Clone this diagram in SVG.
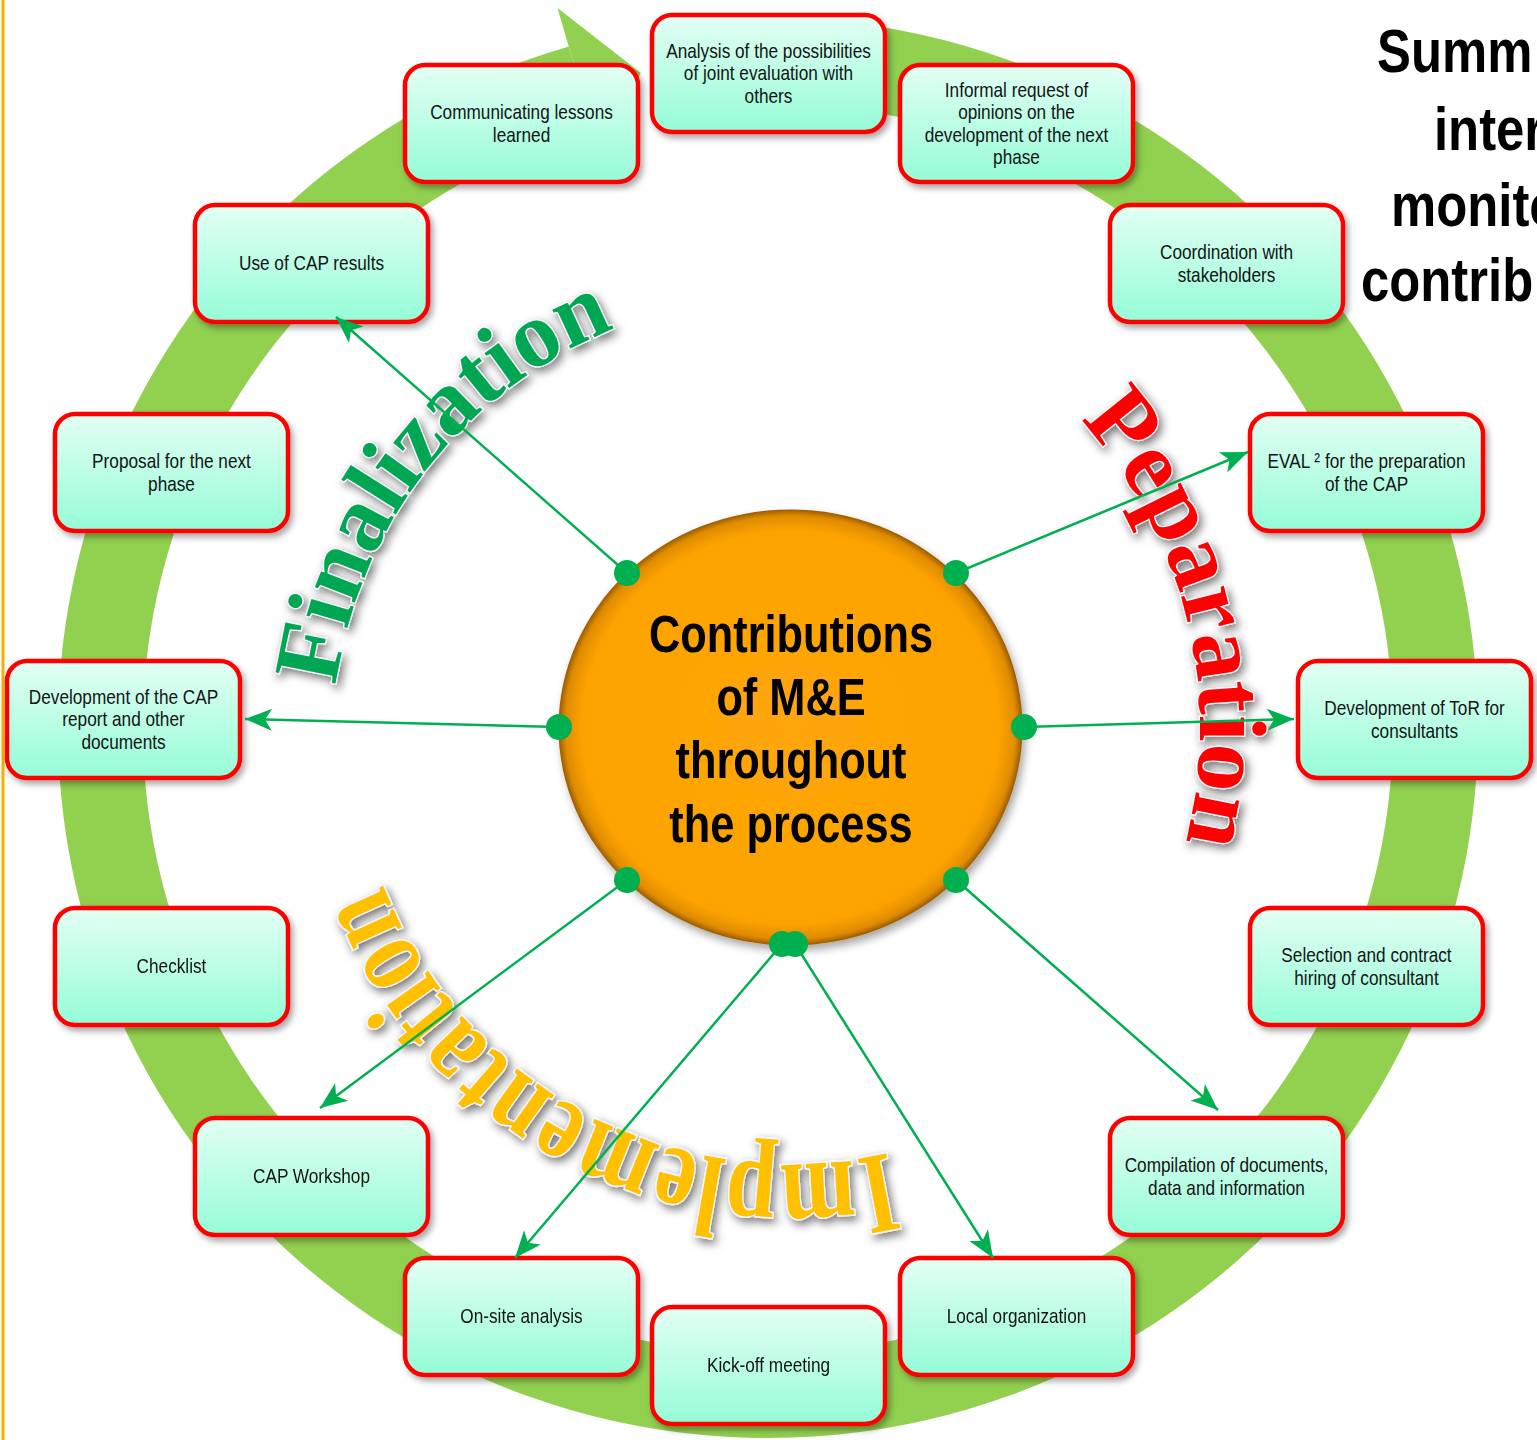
<svg xmlns="http://www.w3.org/2000/svg" width="1537" height="1440" viewBox="0 0 1537 1440">
<defs>
<style>
.box{fill:url(#boxg);stroke:#ff0000;stroke-width:4.5;filter:url(#bsh)}
.bt{font-family:"Liberation Sans",Arial,sans-serif;font-size:21px;fill:#141414;text-anchor:middle}
.ct{font-family:"Liberation Sans",Arial,sans-serif;font-size:51px;font-weight:bold;fill:#000;text-anchor:middle}
.tt{font-family:"Liberation Sans",Arial,sans-serif;font-size:62px;font-weight:bold;fill:#000}
.wa{font-family:"Liberation Serif","Times New Roman",serif;font-weight:bold;stroke:#f4f4ff;stroke-width:2.5;paint-order:stroke;filter:url(#wsh)}
.wi{font-family:"Liberation Serif","Times New Roman",serif;font-weight:bold;font-size:89px;fill:#ffc000;stroke:#f4f4ff;stroke-width:2.5;paint-order:stroke;text-anchor:middle}
.con{stroke:#00b050;stroke-width:2.5;fill:none;marker-end:url(#ah)}
.dot{fill:#00b050}
</style>
<linearGradient id="boxg" x1="0" y1="0" x2="0" y2="1">
<stop offset="0" stop-color="#e3fff4"/>
<stop offset="1" stop-color="#95fcd7"/>
</linearGradient>
<radialGradient id="cg" cx="0.5" cy="0.5" r="0.5">
<stop offset="0" stop-color="#ffa60a"/>
<stop offset="0.9" stop-color="#fda300"/>
<stop offset="0.97" stop-color="#e08c00"/>
<stop offset="1" stop-color="#9a5c00"/>
</radialGradient>
<filter id="bsh" x="-10%" y="-10%" width="125%" height="130%">
<feDropShadow dx="3" dy="4" stdDeviation="3" flood-color="#000" flood-opacity="0.35"/>
</filter>
<filter id="csh" x="-10%" y="-10%" width="125%" height="125%">
<feDropShadow dx="3" dy="5" stdDeviation="4" flood-color="#000" flood-opacity="0.35"/>
</filter>
<filter id="wsh" x="-20%" y="-20%" width="140%" height="140%">
<feDropShadow dx="3" dy="4" stdDeviation="5" flood-color="#000" flood-opacity="0.55"/>
</filter>
<marker id="ah" viewBox="-28 -12 30 24" refX="0" refY="0" markerWidth="30" markerHeight="24" markerUnits="userSpaceOnUse" orient="auto">
<path d="M0,0 L-27,-11 L-20,0 L-27,11 Z" fill="#00b050"/>
</marker>
<path id="arcF" d="M332.3,760.6 A448,448 0 0 1 686.9,306.8"/>
<path id="arcP" d="M1036.8,377.9 A457,457 0 0 1 1166.7,899.2"/>
</defs>
<rect x="0" y="0" width="1537" height="1440" fill="#ffffff"/>
<line x1="3" y1="0" x2="3" y2="1440" stroke="#f5b000" stroke-width="3"/>

<g id="ring">
<path d="M743.2,18.4 A710,710 0 1 1 568.7,46.5 L592.6,128.1 A625,625 0 1 0 746.2,103.4 Z" fill="#92d050"/>
<polygon points="557.5,8.1 640.6,72.8 603.8,166.5" fill="#92d050"/>
</g>

<g id="phase-labels">
<text class="wa" font-size="93" fill="#00a651"><textPath href="#arcF" startOffset="50%" text-anchor="middle">Finalization</textPath></text>
<text class="wa" font-size="96" fill="#ff0000"><textPath href="#arcP" startOffset="50%" text-anchor="middle">Peparation</textPath></text>
<g id="implementation" filter="url(#wsh)">
<text class="wi" transform="translate(872.1,1156.2) rotate(169.14) scale(1,1.3)">I</text>
<text class="wi" transform="translate(816.6,1163.2) rotate(176.5) scale(1,1.3)">m</text>
<text class="wi" transform="translate(753.1,1162.4) rotate(184.86) scale(1,1.3)">p</text>
<text class="wi" transform="translate(715.2,1157.5) rotate(189.88) scale(1,1.3)">l</text>
<text class="wi" transform="translate(682.8,1150.6) rotate(194.23) scale(1,1.3)">e</text>
<text class="wi" transform="translate(627.3,1132.5) rotate(201.92) scale(1,1.3)">m</text>
<text class="wi" transform="translate(574.6,1107.1) rotate(209.61) scale(1,1.3)">e</text>
<text class="wi" transform="translate(536,1082.3) rotate(215.63) scale(1,1.3)">n</text>
<text class="wi" transform="translate(504.1,1057.2) rotate(220.98) scale(1,1.3)">t</text>
<text class="wi" transform="translate(476.4,1030.9) rotate(226) scale(1,1.3)">a</text>
<text class="wi" transform="translate(451.1,1002.3) rotate(231.01) scale(1,1.3)">t</text>
<text class="wi" transform="translate(434.3,980) rotate(234.69) scale(1,1.3)">i</text>
<text class="wi" transform="translate(414.8,950.1) rotate(239.37) scale(1,1.3)">o</text>
<text class="wi" transform="translate(392.5,907.2) rotate(245.73) scale(1,1.3)">n</text>
</g>
</g>

<g id="center">
<ellipse cx="790.5" cy="727.5" rx="232" ry="218" fill="url(#cg)" filter="url(#csh)"/>
<text class="ct" transform="translate(791,0) scale(0.85,1)"><tspan x="0" y="652">Contributions</tspan><tspan x="0" y="715">of M&amp;E</tspan><tspan x="0" y="778">throughout</tspan><tspan x="0" y="842">the process</tspan></text>
</g>

<g id="n1" transform="translate(652,15)"><rect class="box" width="233" height="117" rx="20"/><text class="bt" transform="translate(116.5,0) scale(0.82,1)"><tspan x="0" y="43.2">Analysis of the possibilities</tspan><tspan x="0" y="65.5">of joint evaluation with</tspan><tspan x="0" y="87.8">others</tspan></text></g>
<g id="n2" transform="translate(900,65)"><rect class="box" width="233" height="117" rx="20"/><text class="bt" transform="translate(116.5,0) scale(0.82,1)"><tspan x="0" y="32">Informal request of</tspan><tspan x="0" y="54.3">opinions on the</tspan><tspan x="0" y="76.6">development of the next</tspan><tspan x="0" y="98.9">phase</tspan></text></g>
<g id="n3" transform="translate(1110,205)"><rect class="box" width="233" height="117" rx="20"/><text class="bt" transform="translate(116.5,0) scale(0.82,1)"><tspan x="0" y="54.3">Coordination with</tspan><tspan x="0" y="76.6">stakeholders</tspan></text></g>
<g id="n4" transform="translate(1250,414)"><rect class="box" width="233" height="117" rx="20"/><text class="bt" transform="translate(116.5,0) scale(0.82,1)"><tspan x="0" y="54.3">EVAL ² for the preparation</tspan><tspan x="0" y="76.6">of the CAP</tspan></text></g>
<g id="n5" transform="translate(1298,661)"><rect class="box" width="233" height="117" rx="20"/><text class="bt" transform="translate(116.5,0) scale(0.82,1)"><tspan x="0" y="54.3">Development of ToR for</tspan><tspan x="0" y="76.6">consultants</tspan></text></g>
<g id="n6" transform="translate(1250,908)"><rect class="box" width="233" height="117" rx="20"/><text class="bt" transform="translate(116.5,0) scale(0.82,1)"><tspan x="0" y="54.3">Selection and contract</tspan><tspan x="0" y="76.6">hiring of consultant</tspan></text></g>
<g id="n7" transform="translate(1110,1118)"><rect class="box" width="233" height="117" rx="20"/><text class="bt" transform="translate(116.5,0) scale(0.82,1)"><tspan x="0" y="54.3">Compilation of documents,</tspan><tspan x="0" y="76.6">data and information</tspan></text></g>
<g id="n8" transform="translate(900,1258)"><rect class="box" width="233" height="117" rx="20"/><text class="bt" transform="translate(116.5,0) scale(0.82,1)"><tspan x="0" y="65.5">Local organization</tspan></text></g>
<g id="n9" transform="translate(652,1307)"><rect class="box" width="233" height="117" rx="20"/><text class="bt" transform="translate(116.5,0) scale(0.82,1)"><tspan x="0" y="65.5">Kick-off meeting</tspan></text></g>
<g id="n10" transform="translate(405,1258)"><rect class="box" width="233" height="117" rx="20"/><text class="bt" transform="translate(116.5,0) scale(0.82,1)"><tspan x="0" y="65.5">On-site analysis</tspan></text></g>
<g id="n11" transform="translate(195,1118)"><rect class="box" width="233" height="117" rx="20"/><text class="bt" transform="translate(116.5,0) scale(0.82,1)"><tspan x="0" y="65.5">CAP Workshop</tspan></text></g>
<g id="n12" transform="translate(55,908)"><rect class="box" width="233" height="117" rx="20"/><text class="bt" transform="translate(116.5,0) scale(0.82,1)"><tspan x="0" y="65.5">Checklist</tspan></text></g>
<g id="n13" transform="translate(7,661)"><rect class="box" width="233" height="117" rx="20"/><text class="bt" transform="translate(116.5,0) scale(0.82,1)"><tspan x="0" y="43.2">Development of the CAP</tspan><tspan x="0" y="65.5">report and other</tspan><tspan x="0" y="87.8">documents</tspan></text></g>
<g id="n14" transform="translate(55,414)"><rect class="box" width="233" height="117" rx="20"/><text class="bt" transform="translate(116.5,0) scale(0.82,1)"><tspan x="0" y="54.3">Proposal for the next</tspan><tspan x="0" y="76.6">phase</tspan></text></g>
<g id="n15" transform="translate(195,205)"><rect class="box" width="233" height="117" rx="20"/><text class="bt" transform="translate(116.5,0) scale(0.82,1)"><tspan x="0" y="65.5">Use of CAP results</tspan></text></g>
<g id="n16" transform="translate(405,65)"><rect class="box" width="233" height="117" rx="20"/><text class="bt" transform="translate(116.5,0) scale(0.82,1)"><tspan x="0" y="54.3">Communicating lessons</tspan><tspan x="0" y="76.6">learned</tspan></text></g>

<g id="connectors">
<line class="con" x1="627" y1="573" x2="336" y2="317"/>
<line class="con" x1="956" y1="573" x2="1248" y2="452"/>
<line class="con" x1="559" y1="727" x2="245" y2="719"/>
<line class="con" x1="1024" y1="727" x2="1294" y2="719"/>
<line class="con" x1="627" y1="880" x2="320" y2="1108"/>
<line class="con" x1="956" y1="880" x2="1218" y2="1110"/>
<line class="con" x1="782" y1="944" x2="515" y2="1258"/>
<line class="con" x1="795" y1="944" x2="993" y2="1258"/>
<circle class="dot" cx="627" cy="573" r="13"/>
<circle class="dot" cx="956" cy="573" r="13"/>
<circle class="dot" cx="559" cy="727" r="13"/>
<circle class="dot" cx="1024" cy="727" r="13"/>
<circle class="dot" cx="627" cy="880" r="13"/>
<circle class="dot" cx="956" cy="880" r="13"/>
<circle class="dot" cx="782" cy="944" r="13"/>
<circle class="dot" cx="795" cy="944" r="13"/>
</g>

<g id="title">
<text class="tt" transform="translate(1377,72) scale(0.82,1)" x="0" y="0">Summ</text>
<text class="tt" transform="translate(1434,150) scale(0.82,1)" x="0" y="0">inter</text>
<text class="tt" transform="translate(1391,226) scale(0.82,1)" x="0" y="0">monito</text>
<text class="tt" transform="translate(1361,301) scale(0.82,1)" x="0" y="0">contrib</text>
</g>
</svg>
